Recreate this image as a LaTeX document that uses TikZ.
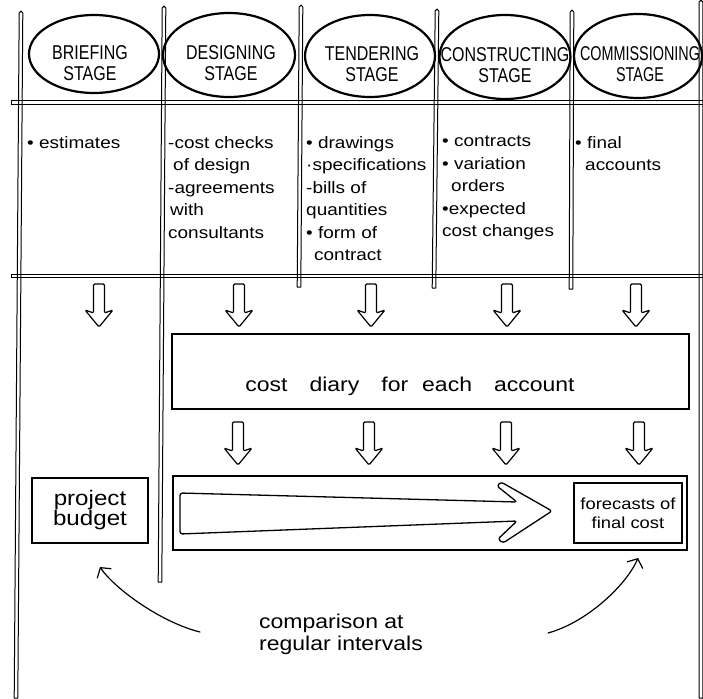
\documentclass[tikz,border=0pt]{standalone}
\usepackage{fontspec}
\usetikzlibrary{shapes.geometric,arrows.meta}
\newfontfamily\capsfont[FakeStretch=0.8]{Liberation Sans}
\newfontfamily\capsnarrow[FakeStretch=0.72]{Liberation Sans}
\newfontfamily\handfont[FakeStretch=1.15]{Liberation Sans}

\tikzset{
  rail/.style={draw=black, line width=1pt, line join=round},
  ink/.style={draw=black, line width=1.2pt, line cap=round},
  stage/.style={ellipse, draw=black, line width=2.2pt, inner sep=0pt},
  stagetext/.style={font=\capsfont\fontsize{20}{21}\selectfont, align=center, inner sep=0pt},
  itemtext/.style={font=\handfont\fontsize{16.5}{22.5}\selectfont, align=left, anchor=north west, inner sep=0pt},
  box/.style={rectangle, draw=black, line width=1.5pt, inner sep=0pt},
  downarrow/.pic={
    \draw[line width=1.2pt, line join=round, rounded corners=1.2pt]
      (-5.5,0) -- (-5.5,29) -- (-14,26) -- (0,43) -- (14,26) -- (5.5,29) -- (5.5,0) -- cycle;
  }
}

\begin{document}
\begin{tikzpicture}[x=1pt,y=-1pt]
\useasboundingbox[fill=white] (0,0) rectangle (703,698);

% vertical double rails: top x / top y / bottom x / bottom y
\foreach \xa/\ya/\xb/\yb in {21/11/16/698, 164/6/160/582, 301/5/299/287,
                             437/9/434/288, 572/10/571/289, 701/0/701/698}{
  \draw[rail] (\xa-1.8,\ya+2) -- (\xb-1.8,\yb) -- (\xb+1.8,\yb)
              -- (\xa+1.8,\ya+2) -- (\xa,\ya) -- cycle;
}
% horizontal double rails
\foreach \yy in {102.5, 276}{
  \draw[rail] (11,\yy-1.9) -- (703,\yy-1.9);
  \draw[rail] (11,\yy+1.9) -- (703,\yy+1.9);
  \draw[rail] (11,\yy-1.9) -- (11,\yy+1.9);
}

% stage headings
\node[stage, minimum width=130pt, minimum height=78pt] (brief) at (94,54) {};
\node[stage, minimum width=132pt, minimum height=84pt] (design) at (229,55) {};
\node[stage, minimum width=130pt, minimum height=82pt] (tender) at (370,56) {};
\node[stage, minimum width=131pt, minimum height=84pt] (construct) at (505,57) {};
\node[stage, minimum width=128pt, minimum height=84pt] (commission) at (638,56) {};

\node[stagetext] (briefT) at (90,63) {BRIEFING\\STAGE};
\node[stagetext] (designT) at (231,63) {DESIGNING\\STAGE};
\node[stagetext] (tenderT) at (372,64) {TENDERING\\STAGE};
\node[stagetext] (constructT) at (505,65) {CONSTRUCTING\\STAGE};
\node[stagetext, font=\capsnarrow\fontsize{20}{21}\selectfont] (commissionT) at (640,64)
  {COMMISSIONING\\STAGE};

% documents produced at each stage
\node[itemtext] (briefL) at (27,136) {• estimates};
\node[itemtext] (designL) at (168,136)
  {-cost checks\\\hspace*{5pt}of design\\-agreements\\\hspace*{2pt}with\\consultants};
\node[itemtext] (tenderL) at (306,136)
  {• drawings\\·specifications\\-bills of\\quantities\\• form of\\\hspace*{8pt}contract};
\node[itemtext] (constructL) at (442,136)
  {• contracts\\• variation\\\hspace*{9pt}orders\\•expected\\cost changes};
\node[itemtext] (commissionL) at (575,136) {• final\\\hspace*{10pt}accounts};

% hollow arrows into the cost diary
\foreach \xx in {99, 239, 371, 507, 636}{ \pic at (\xx,284) {downarrow}; }

\node[box, minimum width=517pt, minimum height=75pt] (diary) at (430.5,371.5) {};
\node[font=\handfont\fontsize{20}{24}\selectfont, anchor=base, inner sep=0pt] (diaryT) at (410,391)
  {cost\hspace{1.1em}diary\hspace{1.1em}for\hspace{0.7em}each\hspace{1.1em}account};

% hollow arrows out of the cost diary
\foreach \xx in {238, 369, 506, 639}{ \pic at (\xx,422) {downarrow}; }

% forecasting track
\node[box, minimum width=514pt, minimum height=74pt] (track) at (430,513) {};
\draw[line width=1.3pt, line join=round, rounded corners=2.5pt]
  (180,493) -- (517,502) -- (497,486) -- (501,482) -- (552,511)
  -- (503,543) -- (498,539) -- (517,521) -- (180,534) -- cycle;
\node[box, minimum width=108pt, minimum height=60pt,
      font=\handfont\fontsize{16}{19}\selectfont, align=center] (forecast) at (628,513)
  {forecasts of\\final cost};

\node[box, minimum width=116pt, minimum height=65pt,
      font=\handfont\fontsize{21}{20}\selectfont, align=center] (budget) at (90,510.5)
  {project\\budget};

% comparison between budget and forecasts
\node[font=\handfont\fontsize{20}{22}\selectfont, align=left, anchor=north west, inner sep=0pt]
  (cmp) at (259,614) {comparison at\\regular intervals};
\coordinate (cmpL) at (200,632);
\coordinate (budgetTip) at (100,567);
\coordinate (cmpR) at (548,633);
\coordinate (forecastTip) at (638,558);
\draw[ink, -{Straight Barb[length=7pt,width=17pt]}]
  (cmpL) .. controls (160,622) and (114,588) .. (budgetTip);
\draw[ink, -{Straight Barb[length=7pt,width=17pt]}]
  (cmpR) .. controls (588,622) and (627,584) .. (forecastTip);
\end{tikzpicture}
\end{document}
